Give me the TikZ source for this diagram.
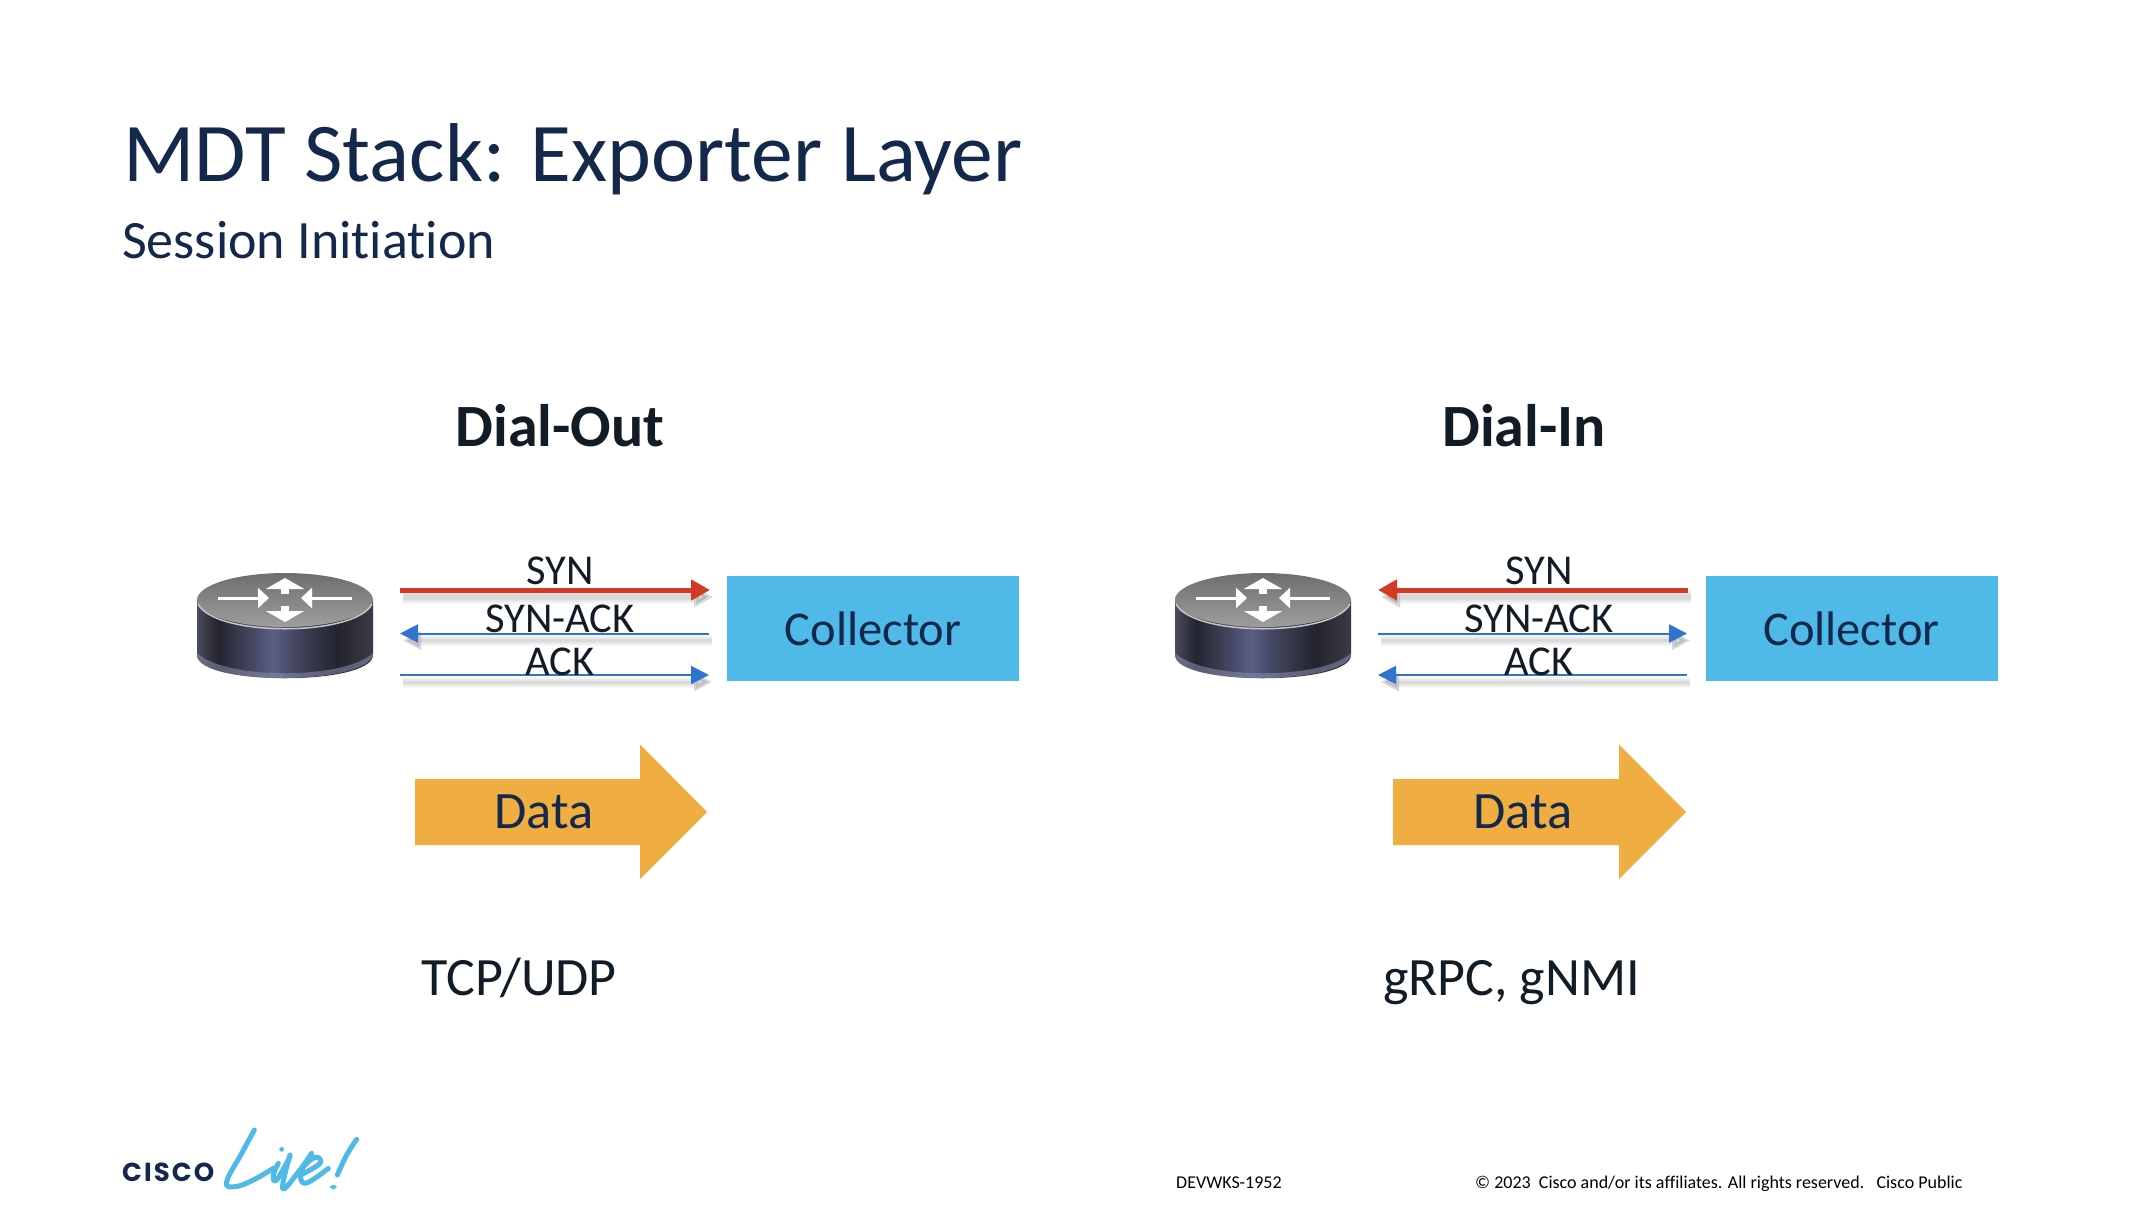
\documentclass[tikz,border=0pt]{standalone}
\usepackage{fontspec}
\setmainfont[Ligatures=NoCommon]{Carlito}
\newfontfamily\logofont{Poppins}
\usetikzlibrary{arrows.meta}
\definecolor{navy}{HTML}{14284B}
\definecolor{inkblack}{HTML}{121C26}
\definecolor{skyblue}{HTML}{4FB9E8}
\definecolor{dataorange}{HTML}{F0AD41}
\definecolor{synred}{HTML}{D23A24}
\definecolor{ackblue}{HTML}{2F74CF}
\definecolor{bodyedge}{HTML}{4A4B5C}
\definecolor{bodydark}{HTML}{23242E}
\definecolor{bodylight}{HTML}{5A5E84}
\definecolor{bodymid}{HTML}{3D3F55}
\definecolor{bodyright}{HTML}{3B3B47}
\pgfdeclarehorizontalshading{routerbody}{100bp}{color(0bp)=(bodyedge); color(25bp)=(bodyedge); color(31bp)=(bodydark); color(46.5bp)=(bodylight); color(55bp)=(bodymid); color(65bp)=(bodydark); color(75bp)=(bodyright); color(100bp)=(bodyright)}
\tikzset{
  softshadow/.style={
    preaction={draw=black,opacity=.04,line width=#1+9pt,transform canvas={shift={(3pt,-7pt)}}},
    preaction={draw=black,opacity=.05,line width=#1+5pt,transform canvas={shift={(3pt,-7pt)}}},
    preaction={draw=black,opacity=.06,line width=#1+1pt,transform canvas={shift={(3pt,-7pt)}}}},
  synline/.style={synred,line width=5pt,-{Triangle[length=19pt,width=20pt]}},
  ackline/.style={ackblue,line width=2pt,-{Triangle[length=18pt,width=18pt]}},
  collector/.style={fill=skyblue,minimum width=292pt,minimum height=105pt,inner sep=0pt,text=navy,font=\fontsize{48.5}{48.5}\selectfont},
  msglabel/.style={text=inkblack,inner sep=0pt,font=\fontsize{42.5}{42.5}\selectfont},
  datalabel/.style={text=navy,inner sep=0pt,font=\fontsize{52.5}{52.5}\selectfont},
  heading/.style={text=inkblack,inner sep=0pt,font=\fontsize{60}{60}\selectfont\bfseries},
  protolabel/.style={text=inkblack,inner sep=0pt,anchor=base,font=\fontsize{54}{54}\selectfont},
  footer/.style={text=black,inner sep=0pt,anchor=base west,font=\fontsize{18}{18}\selectfont},
  liveline/.style={skyblue,line width=5pt,line cap=round,line join=round},
  routerbox/.pic={
    \shade [shading=routerbody] (-88,0) -- (-88,55) .. controls (-88,86) and (88,86) .. (88,55) -- (88,0) -- cycle;
    \fill [bodylight!70!white,opacity=.55] (-88,53) .. controls (-60,80) and (60,80) .. (88,53) .. controls (88,86) and (-88,86) .. (-88,55) -- cycle;
    \shade [top color=black!57!white,bottom color=black!38!white] (0,0) ellipse [x radius=88,y radius=27];
    \draw [black!22!white,line width=1.5pt] (-87,4) .. controls (-70,37) and (70,37) .. (87,4);
    \draw [white,line width=3pt,-{Triangle[length=11pt,width=20pt]}] (-67,-2) -- (-16,-2);
    \draw [white,line width=3pt,-{Triangle[length=11pt,width=20pt]}] (67,-2) -- (16,-2);
    \draw [white,line width=8pt,-{Triangle[length=11pt,width=38pt]}] (0,-6) -- (0,-22);
    \draw [white,line width=8pt,-{Triangle[length=11pt,width=38pt]}] (0,6) -- (0,22);
  },
}
\begin{document}
\begin{tikzpicture}[x=1pt,y=-1pt]
\useasboundingbox[fill=white] (0,0) rectangle (2150,1208);

% title
\node [anchor=base west,inner sep=0pt,text=navy,font=\fontsize{83.5}{83.5}\selectfont] (title) at (123,181) {MDT Stack: Exporter Layer};
\node [anchor=base west,inner sep=0pt,text=navy,font=\fontsize{54}{54}\selectfont] (subtitle) at (122,258) {Session Initiation};

% dial-out
\node [heading] (dialout) at (560,426) {Dial-Out};
\pic (routerA) at (285,600) {routerbox};
\node [collector] (collectorA) at (873,628.5) {Collector};
\coordinate (synA1) at (400,590);
\coordinate (synA2) at (710,590);
\coordinate (ackA1) at (400,633.5);
\coordinate (ackA2) at (709,633.5);
\coordinate (finA1) at (400,675);
\coordinate (finA2) at (709,675);
\draw [synline,softshadow=5pt] (synA1) -- (synA2);
\draw [ackline,softshadow=2pt] (ackA2) -- (ackA1);
\draw [ackline,softshadow=2pt] (finA1) -- (finA2);
\node [msglabel] (synAt) at (560,571) {SYN};
\node [msglabel] (ackAt) at (560,619) {SYN-ACK};
\node [msglabel] (finAt) at (560,662) {ACK};
\fill [dataorange] (415,779) -- (640,779) -- (640,744.5) -- (707,812) -- (640,879) -- (640,845) -- (415,845) -- cycle;
\node [datalabel] (dataA) at (544,812) {Data};
\node [protolabel] (protoA) at (519,995) {TCP/UDP};

% dial-in
\node [heading] (dialin) at (1524,426) {Dial-In};
\pic (routerB) at (1263,600) {routerbox};
\node [collector] (collectorB) at (1851.5,628.5) {Collector};
\coordinate (synB1) at (1378,590);
\coordinate (synB2) at (1688,590);
\coordinate (ackB1) at (1378,633.5);
\coordinate (ackB2) at (1687,633.5);
\coordinate (finB1) at (1378,675);
\coordinate (finB2) at (1687,675);
\draw [synline,softshadow=5pt] (synB2) -- (synB1);
\draw [ackline,softshadow=2pt] (ackB1) -- (ackB2);
\draw [ackline,softshadow=2pt] (finB2) -- (finB1);
\node [msglabel] (synBt) at (1539,571) {SYN};
\node [msglabel] (ackBt) at (1539,619) {SYN-ACK};
\node [msglabel] (finBt) at (1539,662) {ACK};
\fill [dataorange] (1393,779) -- (1619,779) -- (1619,744.5) -- (1686,812) -- (1619,879) -- (1619,845) -- (1393,845) -- cycle;
\node [datalabel] (dataB) at (1523,812) {Data};
\node [protolabel] (protoB) at (1511.5,995) {gRPC, gNMI};

% logo
\node [anchor=base west,inner sep=0pt,text=navy,font=\logofont\bfseries\fontsize{26}{26}\selectfont\addfontfeatures{LetterSpace=8}] (cisco) at (122,1181) {CISCO};
\begin{scope}[shift={(210,1120)},x=1/3*1pt,y=-1/3*1pt]
\draw [liveline] plot[smooth, tension=.7] coordinates {(133,30) (95,100) (50,185) (75,200) (130,180) (190,145)};
\draw [liveline] plot[smooth, tension=.7] coordinates {(205,130) (190,165) (200,180) (240,110)};
\draw [liveline] plot[smooth, tension=.7] coordinates {(240,105) (218,205) (262,160) (305,100)};
\draw [liveline] plot[smooth, tension=.7] coordinates {(272,165) (330,130) (315,112) (275,150) (285,190) (355,145)};
\draw [liveline] plot[smooth, tension=.7] coordinates {(440,58) (410,105) (382,165)};
\fill [skyblue] (215,88) circle (2.4pt);
\fill [skyblue] (370,201) ellipse [x radius=3.4pt,y radius=2pt];
\end{scope}

% footer
\node [footer] (code) at (1176,1188) {DEVWKS-1952};
\node [footer] (rights) at (1475,1188) {© 2023\ \ Cisco and/or its affiliates. All rights reserved.\ \ \ Cisco Public};
\end{tikzpicture}
\end{document}
